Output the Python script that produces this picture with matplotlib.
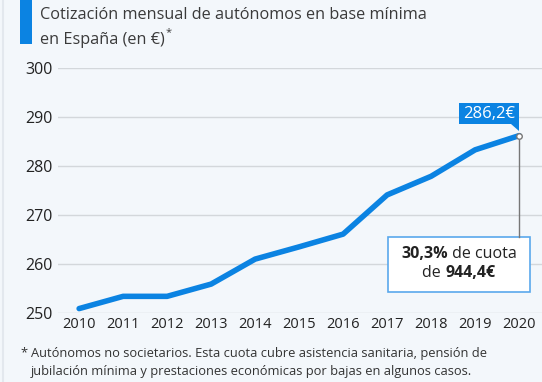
import matplotlib.pyplot as plt
from matplotlib.patches import Rectangle, Polygon

# data
years = [2010, 2011, 2012, 2013, 2014, 2015, 2016, 2017, 2018, 2019, 2020]
cuota = [250.9, 253.4, 253.4, 255.9, 261.0, 263.5, 266.1, 274.1, 277.9, 283.3, 286.2]
y_ticks = [250, 260, 270, 280, 290, 300]
title_lines = ["Cotización mensual de autónomos en base mínima", "en España (en €)"]
note_lines = ["Autónomos no societarios. Esta cuota cubre asistencia sanitaria, pensión de",
              "jubilación mínima y prestaciones económicas por bajas en algunos casos."]

plt.rcParams['font.family'] = ['Open Sans', 'DejaVu Sans']

bg = '#f3f7fb'
blue = '#0b83e2'
txt = '#222222'
W, H = 542, 382

fig = plt.figure(figsize=(W / 100, H / 100), dpi=100, facecolor=bg)
ax = fig.add_axes([58 / W, (H - 313) / H, 484 / W, 245 / H], facecolor=bg)

ax.plot(years, cuota, color=blue, lw=4, solid_capstyle='round', solid_joinstyle='round',
        clip_on=False, zorder=3)
ax.plot(years[-1], cuota[-1], 'o', ms=4, mfc='white', mec='#777777', mew=1, zorder=4)

ax.set_xlim(2009.52, 2020.52)
ax.set_ylim(250, 300)
ax.set_yticks(y_ticks)
ax.set_xticks(years)
ax.grid(axis='y', color='#d3d7db', lw=1)
ax.set_axisbelow(True)
for s in ax.spines.values():
    s.set_visible(False)
ax.tick_params(length=0, colors=txt)
ax.tick_params(axis='y', pad=4, labelsize=11.5)
ax.tick_params(axis='x', pad=3, labelsize=10.5)

# value label at the last point
px = 519
fig.patches.append(Rectangle((459 / W, (H - 124) / H), 60 / W, 21 / H, transform=fig.transFigure,
                             facecolor=blue, edgecolor='none'))
fig.patches.append(Polygon([(511 / W, (H - 124) / H), (519 / W, (H - 124) / H), (519 / W, (H - 131) / H)],
                           closed=True, transform=fig.transFigure, facecolor=blue, edgecolor='none'))
fig.text(489 / W, (H - 113.5) / H, f"{cuota[-1]:.1f}€".replace('.', ','), color='white',
         fontsize=12, ha='center', va='center')

# connector and info box
fig.add_artist(plt.Line2D([px / W, px / W], [(H - 140) / H, (H - 237) / H], color='#777777', lw=1))
fig.patches.append(Rectangle((388 / W, (H - 292) / H), 142 / W, 55 / H, transform=fig.transFigure,
                             facecolor='white', edgecolor='#5aa8ec', lw=1.2))


def two_part(x_center, y, parts):
    # parts: list of (text, weight); laid out side by side, centred on x_center
    r = fig.canvas.get_renderer()
    items = [fig.text(0, y, s, fontsize=11.5, fontweight=w, color=txt, va='center') for s, w in parts]
    widths = [t.get_window_extent(r).width for t in items]
    x = x_center - sum(widths) / 2
    for t, w in zip(items, widths):
        t.set_x(x / W)
        x += w


two_part(459, (H - 254) / H, [("30,3%", 'bold'), (" de cuota", 'normal')])
two_part(459, (H - 273) / H, [("de ", 'normal'), ("944,4€", 'bold')])

# title
fig.patches.append(Rectangle((20 / W, (H - 44) / H), 12 / W, 44 / H, transform=fig.transFigure,
                             facecolor=blue, edgecolor='none'))
fig.text(40 / W, (H - 15) / H, title_lines[0], fontsize=11.7, color='#3a3a3a', va='center')
t = fig.text(40 / W, (H - 40) / H, title_lines[1], fontsize=11.7, color='#3a3a3a', va='center')
fig.canvas.draw()
x_end = t.get_window_extent().x1
fig.text(x_end / W + 0.002, (H - 33) / H, "*", fontsize=8, color='#3a3a3a', va='center')

# footnote
fig.text(20 / W, (H - 353) / H, "*", fontsize=9.3, color='#333333', va='center')
fig.text(31 / W, (H - 353) / H, note_lines[0], fontsize=9.3, color='#333333', va='center')
fig.text(31 / W, (H - 371) / H, note_lines[1], fontsize=9.3, color='#333333', va='center')

fig.add_artist(plt.Line2D([3 / W, 3 / W], [0, 1], color='#e3e8ee', lw=1.5))

fig.savefig('out.png', dpi=100, facecolor=bg)
